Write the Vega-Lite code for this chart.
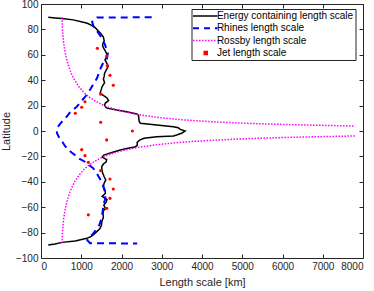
{
"$schema": "https://vega.github.io/schema/vega-lite/v6.json",
"width": 322, "height": 254,
"autosize": {"type": "none"},
"padding": {"left": 41, "top": 4, "right": 11, "bottom": 33},
"config": {
  "font": "Liberation Sans",
  "view": {"stroke": "#262626", "strokeWidth": 1},
  "axis": {"grid": false, "labelFontSize": 10, "titleFontSize": 11, "titleFontWeight": "normal", "labelColor": "#262626", "titleColor": "#262626", "domain": false, "tickColor": "#262626", "tickSize": -4, "labelPadding": 7}
},
"data": {"values": [
{"s":"E","b":"a","lat":89.5,"x":180},{"s":"E","b":"a","lat":89,"x":350},{"s":"E","b":"a","lat":88.5,"x":520},{"s":"E","b":"a","lat":87.5,"x":800},{"s":"E","b":"a","lat":86,"x":1000},{"s":"E","b":"a","lat":84.8,"x":1150},{"s":"E","b":"a","lat":83,"x":1270},{"s":"E","b":"a","lat":81.6,"x":1340},{"s":"E","b":"a","lat":79,"x":1420},{"s":"E","b":"a","lat":77,"x":1480},{"s":"E","b":"a","lat":74,"x":1550},{"s":"E","b":"a","lat":71,"x":1570},{"s":"E","b":"a","lat":69,"x":1540},{"s":"E","b":"a","lat":67,"x":1530},{"s":"E","b":"a","lat":65,"x":1560},{"s":"E","b":"a","lat":63,"x":1600},{"s":"E","b":"a","lat":60,"x":1640},{"s":"E","b":"a","lat":58,"x":1620},{"s":"E","b":"a","lat":56,"x":1590},{"s":"E","b":"a","lat":53,"x":1640},{"s":"E","b":"a","lat":51,"x":1670},{"s":"E","b":"a","lat":48,"x":1620},{"s":"E","b":"a","lat":45.5,"x":1580},{"s":"E","b":"a","lat":43,"x":1570},{"s":"E","b":"a","lat":41,"x":1550},{"s":"E","b":"a","lat":38,"x":1580},{"s":"E","b":"a","lat":35,"x":1520},{"s":"E","b":"a","lat":32,"x":1490},{"s":"E","b":"a","lat":30,"x":1470},{"s":"E","b":"a","lat":28.5,"x":1530},{"s":"E","b":"a","lat":26,"x":1640},{"s":"E","b":"a","lat":24,"x":1680},{"s":"E","b":"a","lat":22,"x":1600},{"s":"E","b":"a","lat":20.5,"x":1580},{"s":"E","b":"a","lat":19,"x":1600},{"s":"E","b":"a","lat":18,"x":1640},{"s":"E","b":"a","lat":16.5,"x":1880},{"s":"E","b":"a","lat":15.2,"x":2130},{"s":"E","b":"a","lat":13.4,"x":2380},{"s":"E","b":"a","lat":12.5,"x":2420},{"s":"E","b":"a","lat":10,"x":2430},{"s":"E","b":"a","lat":7.5,"x":2440},{"s":"E","b":"a","lat":6.1,"x":2470},{"s":"E","b":"a","lat":4.7,"x":2875},{"s":"E","b":"a","lat":3.4,"x":3290},{"s":"E","b":"a","lat":2.6,"x":3410},{"s":"E","b":"a","lat":1.3,"x":3460},{"s":"E","b":"a","lat":0,"x":3580},{"s":"E","b":"a","lat":-1,"x":3530},{"s":"E","b":"a","lat":-1.8,"x":3490},{"s":"E","b":"a","lat":-3.1,"x":3370},{"s":"E","b":"a","lat":-3.9,"x":3290},{"s":"E","b":"a","lat":-4.5,"x":2875},{"s":"E","b":"a","lat":-5.7,"x":2560},{"s":"E","b":"a","lat":-7.1,"x":2450},{"s":"E","b":"a","lat":-9,"x":2390},{"s":"E","b":"a","lat":-11.5,"x":2390},{"s":"E","b":"a","lat":-12.6,"x":2330},{"s":"E","b":"a","lat":-14,"x":2100},{"s":"E","b":"a","lat":-15.2,"x":1950},{"s":"E","b":"a","lat":-16.5,"x":1800},{"s":"E","b":"a","lat":-18,"x":1650},{"s":"E","b":"a","lat":-19,"x":1560},{"s":"E","b":"a","lat":-20.5,"x":1520},{"s":"E","b":"a","lat":-22.5,"x":1630},{"s":"E","b":"a","lat":-24.2,"x":1620},{"s":"E","b":"a","lat":-26,"x":1550},{"s":"E","b":"a","lat":-28,"x":1510},{"s":"E","b":"a","lat":-30,"x":1510},{"s":"E","b":"a","lat":-33,"x":1530},{"s":"E","b":"a","lat":-36,"x":1570},{"s":"E","b":"a","lat":-38.5,"x":1610},{"s":"E","b":"a","lat":-41,"x":1570},{"s":"E","b":"a","lat":-43.5,"x":1550},{"s":"E","b":"a","lat":-46.5,"x":1590},{"s":"E","b":"a","lat":-49,"x":1600},{"s":"E","b":"a","lat":-51.5,"x":1520},{"s":"E","b":"a","lat":-54,"x":1640},{"s":"E","b":"a","lat":-56,"x":1620},{"s":"E","b":"a","lat":-58.3,"x":1560},{"s":"E","b":"a","lat":-61,"x":1600},{"s":"E","b":"a","lat":-63,"x":1550},{"s":"E","b":"a","lat":-65,"x":1540},{"s":"E","b":"a","lat":-68,"x":1550},{"s":"E","b":"a","lat":-71.5,"x":1510},{"s":"E","b":"a","lat":-74.5,"x":1500},{"s":"E","b":"a","lat":-77,"x":1460},{"s":"E","b":"a","lat":-80.6,"x":1340},{"s":"E","b":"a","lat":-83,"x":1250},{"s":"E","b":"a","lat":-84.5,"x":1140},{"s":"E","b":"a","lat":-86.6,"x":850},{"s":"E","b":"a","lat":-87.7,"x":520},{"s":"E","b":"a","lat":-89,"x":350},{"s":"E","b":"a","lat":-89.8,"x":180},
{"s":"R","b":"a","lat":89.6,"x":2750},{"s":"R","b":"a","lat":89.3,"x":1390},{"s":"R","b":"a","lat":88.3,"x":1350},{"s":"R","b":"a","lat":86,"x":1270},{"s":"R","b":"a","lat":82,"x":1310},{"s":"R","b":"a","lat":77,"x":1430},{"s":"R","b":"a","lat":73,"x":1510},{"s":"R","b":"a","lat":68,"x":1590},{"s":"R","b":"a","lat":61,"x":1660},{"s":"R","b":"a","lat":57,"x":1640},{"s":"R","b":"a","lat":54.6,"x":1560},{"s":"R","b":"a","lat":50,"x":1490},{"s":"R","b":"a","lat":45,"x":1430},{"s":"R","b":"a","lat":41.5,"x":1390},{"s":"R","b":"a","lat":37,"x":1300},{"s":"R","b":"a","lat":33,"x":1230},{"s":"R","b":"a","lat":27,"x":1100},{"s":"R","b":"a","lat":23,"x":990},{"s":"R","b":"a","lat":19,"x":886},{"s":"R","b":"a","lat":15,"x":730},{"s":"R","b":"a","lat":11,"x":630},{"s":"R","b":"a","lat":8,"x":540},{"s":"R","b":"a","lat":5,"x":460},{"s":"R","b":"a","lat":2.4,"x":400},{"s":"R","b":"a","lat":0,"x":390},{"s":"R","b":"a","lat":-2,"x":400},{"s":"R","b":"a","lat":-5,"x":450},{"s":"R","b":"a","lat":-8,"x":520},{"s":"R","b":"a","lat":-11,"x":580},{"s":"R","b":"a","lat":-13.6,"x":640},{"s":"R","b":"a","lat":-17,"x":760},{"s":"R","b":"a","lat":-19,"x":845},{"s":"R","b":"a","lat":-22,"x":960},{"s":"R","b":"a","lat":-24.2,"x":1093},{"s":"R","b":"a","lat":-29.4,"x":1300},{"s":"R","b":"a","lat":-33,"x":1380},{"s":"R","b":"a","lat":-38,"x":1470},{"s":"R","b":"a","lat":-43,"x":1540},{"s":"R","b":"a","lat":-48,"x":1590},{"s":"R","b":"a","lat":-53,"x":1600},{"s":"R","b":"a","lat":-58,"x":1550},{"s":"R","b":"a","lat":-64,"x":1530},{"s":"R","b":"a","lat":-69,"x":1500},{"s":"R","b":"a","lat":-74,"x":1450},{"s":"R","b":"a","lat":-78,"x":1360},{"s":"R","b":"a","lat":-81,"x":1290},{"s":"R","b":"a","lat":-84.5,"x":1180},{"s":"R","b":"a","lat":-86,"x":1150},{"s":"R","b":"a","lat":-88.3,"x":1220},{"s":"R","b":"a","lat":-88.6,"x":2390},
{"s":"L","b":"n","lat":89.5,"x":525},{"s":"L","b":"n","lat":85,"x":528},{"s":"L","b":"n","lat":80,"x":533},{"s":"L","b":"n","lat":75,"x":545},{"s":"L","b":"n","lat":70,"x":560},{"s":"L","b":"n","lat":65,"x":583},{"s":"L","b":"n","lat":60,"x":612},{"s":"L","b":"n","lat":55,"x":650},{"s":"L","b":"n","lat":50,"x":698},{"s":"L","b":"n","lat":45,"x":758},{"s":"L","b":"n","lat":40,"x":835},{"s":"L","b":"n","lat":35,"x":938},{"s":"L","b":"n","lat":30,"x":1075},{"s":"L","b":"n","lat":27,"x":1185},{"s":"L","b":"n","lat":24,"x":1325},{"s":"L","b":"n","lat":21,"x":1505},{"s":"L","b":"n","lat":19,"x":1655},{"s":"L","b":"n","lat":17,"x":1845},{"s":"L","b":"n","lat":15,"x":2085},{"s":"L","b":"n","lat":13,"x":2400},{"s":"L","b":"n","lat":11,"x":2830},{"s":"L","b":"n","lat":10,"x":3110},{"s":"L","b":"n","lat":9,"x":3450},{"s":"L","b":"n","lat":8,"x":3880},{"s":"L","b":"n","lat":7,"x":4430},{"s":"L","b":"n","lat":6,"x":5160},{"s":"L","b":"n","lat":5,"x":6190},{"s":"L","b":"n","lat":4.5,"x":6880},{"s":"L","b":"n","lat":3.9,"x":7800},
{"s":"L","b":"s","lat":-89.5,"x":525},{"s":"L","b":"s","lat":-85,"x":528},{"s":"L","b":"s","lat":-80,"x":533},{"s":"L","b":"s","lat":-75,"x":545},{"s":"L","b":"s","lat":-70,"x":560},{"s":"L","b":"s","lat":-65,"x":583},{"s":"L","b":"s","lat":-60,"x":612},{"s":"L","b":"s","lat":-55,"x":650},{"s":"L","b":"s","lat":-50,"x":698},{"s":"L","b":"s","lat":-45,"x":758},{"s":"L","b":"s","lat":-40,"x":835},{"s":"L","b":"s","lat":-35,"x":938},{"s":"L","b":"s","lat":-30,"x":1075},{"s":"L","b":"s","lat":-27,"x":1185},{"s":"L","b":"s","lat":-24,"x":1325},{"s":"L","b":"s","lat":-21,"x":1505},{"s":"L","b":"s","lat":-19,"x":1655},{"s":"L","b":"s","lat":-17,"x":1845},{"s":"L","b":"s","lat":-15,"x":2085},{"s":"L","b":"s","lat":-13,"x":2400},{"s":"L","b":"s","lat":-11,"x":2830},{"s":"L","b":"s","lat":-10,"x":3110},{"s":"L","b":"s","lat":-9,"x":3450},{"s":"L","b":"s","lat":-8,"x":3880},{"s":"L","b":"s","lat":-7,"x":4430},{"s":"L","b":"s","lat":-6,"x":5160},{"s":"L","b":"s","lat":-5,"x":6190},{"s":"L","b":"s","lat":-4.5,"x":6880},{"s":"L","b":"s","lat":-3.9,"x":7800},
{"s":"J","b":"a","lat":65.1,"x":1400},{"s":"J","b":"a","lat":59,"x":1632},{"s":"J","b":"a","lat":51.4,"x":1648},{"s":"J","b":"a","lat":43.8,"x":1714},{"s":"J","b":"a","lat":36,"x":1797},{"s":"J","b":"a","lat":29,"x":1483},{"s":"J","b":"a","lat":23,"x":1093},{"s":"J","b":"a","lat":18.7,"x":1011},{"s":"J","b":"a","lat":14,"x":853},{"s":"J","b":"a","lat":6.9,"x":1483},{"s":"J","b":"a","lat":0,"x":2270},{"s":"J","b":"a","lat":-7,"x":1632},{"s":"J","b":"a","lat":-14.7,"x":1011},{"s":"J","b":"a","lat":-19.4,"x":1093},{"s":"J","b":"a","lat":-24.7,"x":1176},{"s":"J","b":"a","lat":-31.2,"x":1483},{"s":"J","b":"a","lat":-37.8,"x":1714},{"s":"J","b":"a","lat":-45.7,"x":1797},{"s":"J","b":"a","lat":-53,"x":1714},{"s":"J","b":"a","lat":-60.9,"x":1632},{"s":"J","b":"a","lat":-66,"x":1176}
]},
"layer": [
{"transform": [{"filter": "datum.s=='E'"}],
 "mark": {"type": "line", "strokeWidth": 1.5},
 "encoding": {
  "x": {"field": "x", "type": "quantitative", "scale": {"domain": [0, 8000], "nice": false, "zero": false}, "axis": {"orient": "bottom", "format": "d", "values": [0,1000,2000,3000,4000,5000,6000,7000,8000], "title": "Length scale [km]", "titlePadding": 5}},
  "y": {"field": "lat", "type": "quantitative", "scale": {"domain": [-100, 100], "nice": false, "zero": false}, "axis": {"orient": "left", "format": "d", "values": [-100,-80,-60,-40,-20,0,20,40,60,80,100], "title": "Latitude", "titlePadding": 4}},
  "order": {"field": "lat", "sort": "descending"},
  "color": {"field": "s", "type": "nominal", "scale": {"domain": ["E","R","L","J"], "range": ["#000000","#0000ff","#ff00ff","#ff0000"]},
   "legend": {"orient": "none", "legendX": 150.5, "legendY": 5, "title": null, "padding": 2, "symbolSize": 100, "labelOffset": 13.4, "labelFontSize": 10, "labelColor": "#000000", "rowPadding": 2.3, "strokeColor": "#262626", "fillColor": "#ffffff", "symbolType": "stroke",
    "labelExpr": "datum.value=='E' ? 'Energy containing length scale' : datum.value=='R' ? 'Rhines length scale' : datum.value=='L' ? 'Rossby length scale' : 'Jet length scale'",
    "encode": {"symbols": {"update": {
      "shape": {"signal": "datum.value=='J' ? 'M1.15,-0.3H1.75V0.3H1.15Z' : 'M-1.1,0H3.8'"},
      "fill": {"signal": "datum.value=='J' ? '#ff0000' : 'transparent'"},
      "stroke": {"signal": "datum.value=='E' ? '#000000' : datum.value=='R' ? '#0000ff' : datum.value=='L' ? '#ff00ff' : 'transparent'"},
      "strokeDash": {"signal": "datum.value=='R' ? [6,5] : datum.value=='L' ? [1.5,1.5] : [100,1]"},
      "strokeWidth": {"signal": "datum.value=='R' ? 2 : 1.5"},
      "size": {"value": 100},
      "opacity": {"value": 1}
    }}}}}
 }},
{"transform": [{"filter": "datum.s=='R'"}],
 "mark": {"type": "line", "strokeWidth": 2, "strokeDash": [7, 5]},
 "encoding": {
  "x": {"field": "x", "type": "quantitative", "axis": null},
  "y": {"field": "lat", "type": "quantitative", "axis": null},
  "order": {"field": "lat", "sort": "descending"},
  "color": {"field": "s", "type": "nominal"}
 }},
{"transform": [{"filter": "datum.s=='L'"}],
 "mark": {"type": "line", "strokeWidth": 1.5, "strokeDash": [1.5, 1.5]},
 "encoding": {
  "x": {"field": "x", "type": "quantitative", "axis": null},
  "y": {"field": "lat", "type": "quantitative", "axis": null},
  "detail": {"field": "b"},
  "order": {"field": "lat", "sort": "descending"},
  "color": {"field": "s", "type": "nominal"}
 }},
{"transform": [{"filter": "datum.s=='J'"}],
 "mark": {"type": "point", "filled": true, "size": 10, "opacity": 1, "shape": "circle"},
 "encoding": {
  "x": {"field": "x", "type": "quantitative", "axis": {"orient": "top", "values": [0,1000,2000,3000,4000,5000,6000,7000,8000], "labels": false, "title": null}},
  "y": {"field": "lat", "type": "quantitative", "axis": {"orient": "right", "values": [-100,-80,-60,-40,-20,0,20,40,60,80,100], "labels": false, "title": null}},
  "color": {"field": "s", "type": "nominal"}
 }}
],
"resolve": {"axis": {"x": "independent", "y": "independent"}}
}
